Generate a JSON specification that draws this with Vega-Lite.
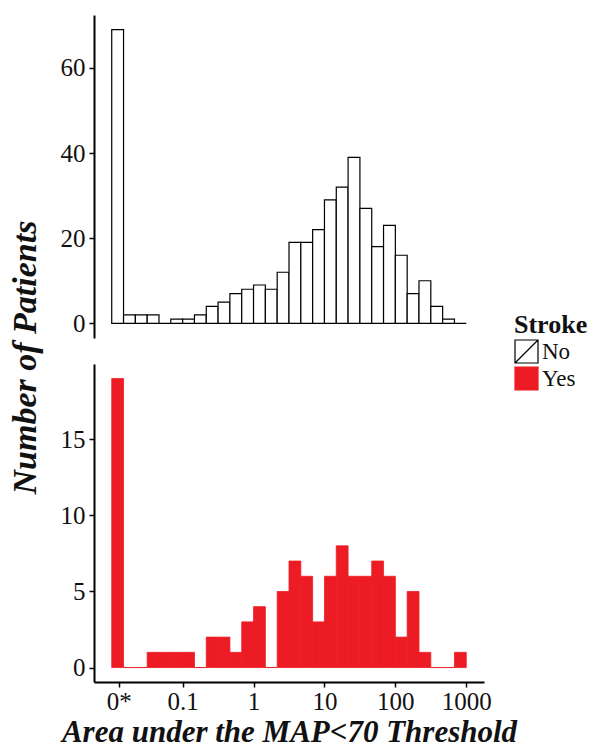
{
  "$schema": "https://vega.github.io/schema/vega-lite/v6.json",
  "background": "white",
  "padding": {"left": 8, "top": 15, "right": 0, "bottom": 0},
  "spacing": 26,
  "bounds": "flush",
  "config": {
    "view": {"stroke": null},
    "font": "Liberation Serif",
    "axis": {
      "grid": false,
      "domainColor": "black",
      "domainWidth": 2,
      "tickColor": "black",
      "tickWidth": 1.5,
      "tickSize": 5,
      "labelFont": "Liberation Serif",
      "labelFontSize": 25,
      "labelColor": "#111",
      "labelPadding": 4,
      "titleFont": "Liberation Serif",
      "titleFontSize": 31,
      "titleFontStyle": "italic",
      "titleFontWeight": "bold",
      "titleColor": "#111"
    },
    "legend": {
      "titleFont": "Liberation Serif",
      "labelFont": "Liberation Serif"
    }
  },
  "data": {"values": [
    {"Stroke": "No", "lo": -2, "hi": -1.8333, "count": 69},
    {"Stroke": "No", "lo": -1.8333, "hi": -1.6667, "count": 2},
    {"Stroke": "No", "lo": -1.6667, "hi": -1.5, "count": 2},
    {"Stroke": "No", "lo": -1.5, "hi": -1.3333, "count": 2},
    {"Stroke": "No", "lo": -1.3333, "hi": -1.1667, "count": 0},
    {"Stroke": "No", "lo": -1.1667, "hi": -1, "count": 1},
    {"Stroke": "No", "lo": -1, "hi": -0.8333, "count": 1},
    {"Stroke": "No", "lo": -0.8333, "hi": -0.6667, "count": 2},
    {"Stroke": "No", "lo": -0.6667, "hi": -0.5, "count": 4},
    {"Stroke": "No", "lo": -0.5, "hi": -0.3333, "count": 5},
    {"Stroke": "No", "lo": -0.3333, "hi": -0.1667, "count": 7},
    {"Stroke": "No", "lo": -0.1667, "hi": 0, "count": 8},
    {"Stroke": "No", "lo": 0, "hi": 0.1667, "count": 9},
    {"Stroke": "No", "lo": 0.1667, "hi": 0.3333, "count": 8},
    {"Stroke": "No", "lo": 0.3333, "hi": 0.5, "count": 12},
    {"Stroke": "No", "lo": 0.5, "hi": 0.6667, "count": 19},
    {"Stroke": "No", "lo": 0.6667, "hi": 0.8333, "count": 19},
    {"Stroke": "No", "lo": 0.8333, "hi": 1, "count": 22},
    {"Stroke": "No", "lo": 1, "hi": 1.1667, "count": 29},
    {"Stroke": "No", "lo": 1.1667, "hi": 1.3333, "count": 32},
    {"Stroke": "No", "lo": 1.3333, "hi": 1.5, "count": 39},
    {"Stroke": "No", "lo": 1.5, "hi": 1.6667, "count": 27},
    {"Stroke": "No", "lo": 1.6667, "hi": 1.8333, "count": 18},
    {"Stroke": "No", "lo": 1.8333, "hi": 2, "count": 23},
    {"Stroke": "No", "lo": 2, "hi": 2.1667, "count": 16},
    {"Stroke": "No", "lo": 2.1667, "hi": 2.3333, "count": 7},
    {"Stroke": "No", "lo": 2.3333, "hi": 2.5, "count": 10},
    {"Stroke": "No", "lo": 2.5, "hi": 2.6667, "count": 4},
    {"Stroke": "No", "lo": 2.6667, "hi": 2.8333, "count": 1},
    {"Stroke": "No", "lo": 2.8333, "hi": 3, "count": 0},
    {"Stroke": "Yes", "lo": -2, "hi": -1.8333, "count": 19},
    {"Stroke": "Yes", "lo": -1.8333, "hi": -1.6667, "count": 0},
    {"Stroke": "Yes", "lo": -1.6667, "hi": -1.5, "count": 0},
    {"Stroke": "Yes", "lo": -1.5, "hi": -1.3333, "count": 1},
    {"Stroke": "Yes", "lo": -1.3333, "hi": -1.1667, "count": 1},
    {"Stroke": "Yes", "lo": -1.1667, "hi": -1, "count": 1},
    {"Stroke": "Yes", "lo": -1, "hi": -0.8333, "count": 1},
    {"Stroke": "Yes", "lo": -0.8333, "hi": -0.6667, "count": 0},
    {"Stroke": "Yes", "lo": -0.6667, "hi": -0.5, "count": 2},
    {"Stroke": "Yes", "lo": -0.5, "hi": -0.3333, "count": 2},
    {"Stroke": "Yes", "lo": -0.3333, "hi": -0.1667, "count": 1},
    {"Stroke": "Yes", "lo": -0.1667, "hi": 0, "count": 3},
    {"Stroke": "Yes", "lo": 0, "hi": 0.1667, "count": 4},
    {"Stroke": "Yes", "lo": 0.1667, "hi": 0.3333, "count": 0},
    {"Stroke": "Yes", "lo": 0.3333, "hi": 0.5, "count": 5},
    {"Stroke": "Yes", "lo": 0.5, "hi": 0.6667, "count": 7},
    {"Stroke": "Yes", "lo": 0.6667, "hi": 0.8333, "count": 6},
    {"Stroke": "Yes", "lo": 0.8333, "hi": 1, "count": 3},
    {"Stroke": "Yes", "lo": 1, "hi": 1.1667, "count": 6},
    {"Stroke": "Yes", "lo": 1.1667, "hi": 1.3333, "count": 8},
    {"Stroke": "Yes", "lo": 1.3333, "hi": 1.5, "count": 6},
    {"Stroke": "Yes", "lo": 1.5, "hi": 1.6667, "count": 6},
    {"Stroke": "Yes", "lo": 1.6667, "hi": 1.8333, "count": 7},
    {"Stroke": "Yes", "lo": 1.8333, "hi": 2, "count": 6},
    {"Stroke": "Yes", "lo": 2, "hi": 2.1667, "count": 2},
    {"Stroke": "Yes", "lo": 2.1667, "hi": 2.3333, "count": 5},
    {"Stroke": "Yes", "lo": 2.3333, "hi": 2.5, "count": 1},
    {"Stroke": "Yes", "lo": 2.5, "hi": 2.6667, "count": 0},
    {"Stroke": "Yes", "lo": 2.6667, "hi": 2.8333, "count": 0},
    {"Stroke": "Yes", "lo": 2.8333, "hi": 3, "count": 1}
  ]},
  "vconcat": [
    {
      "width": 390,
      "height": 323,
      "transform": [{"filter": "datum.Stroke === 'No'"}],
      "mark": {"type": "bar", "strokeWidth": 1.2},
      "encoding": {
        "x": {"field": "lo", "type": "quantitative", "scale": {"domain": [-2.25, 3.25], "nice": false, "zero": false}, "axis": null},
        "x2": {"field": "hi"},
        "y": {"field": "count", "type": "quantitative", "scale": {"domain": [-3.45, 72.45], "nice": false, "zero": false},
              "axis": {"values": [0, 20, 40, 60], "title": "Number of Patients", "titleY": 342, "titlePadding": 18, "titleFontSize": 34}},
        "y2": {"datum": 0},
        "fill": {"field": "Stroke", "type": "nominal", "scale": {"domain": ["No", "Yes"], "range": ["white", "#ED1C24"]},
                 "legend": {"title": "Stroke", "orient": "none", "legendX": 420, "legendY": 297, "titleFontSize": 26, "titleFontWeight": "bold", "titleColor": "#111", "labelFontSize": 23, "labelColor": "#111", "symbolType": "M-1,-1H1V1H-1Z M-1,1L1,-1", "symbolSize": 529, "symbolStrokeWidth": 1.2, "rowPadding": -4, "labelOffset": 3, "titlePadding": 1}},
        "stroke": {"field": "Stroke", "type": "nominal", "scale": {"domain": ["No", "Yes"], "range": ["black", "#ED1C24"]},
                   "legend": {"title": "Stroke", "orient": "none", "legendX": 420, "legendY": 297, "titleFontSize": 26, "titleFontWeight": "bold", "titleColor": "#111", "labelFontSize": 23, "labelColor": "#111", "symbolType": "M-1,-1H1V1H-1Z M-1,1L1,-1", "symbolSize": 529, "symbolStrokeWidth": 1.2, "rowPadding": -4, "labelOffset": 3, "titlePadding": 1}}
      }
    },
    {
      "width": 390,
      "height": 318,
      "transform": [{"filter": "datum.Stroke === 'Yes'"}],
      "mark": {"type": "bar", "strokeWidth": 0.8},
      "encoding": {
        "x": {"field": "lo", "type": "quantitative", "scale": {"domain": [-2.25, 3.25], "nice": false, "zero": false},
              "axis": {"values": [-1.9, -1, 0, 1, 2, 3], "labelExpr": "datum.value < -1.5 ? '0*' : datum.value < -0.5 ? '0.1' : datum.value < 0.5 ? '1' : datum.value < 1.5 ? '10' : datum.value < 2.5 ? '100' : '1000'", "title": "Area under the MAP<70 Threshold", "titlePadding": 3, "labelPadding": 2, "labelFlush": false}},
        "x2": {"field": "hi"},
        "y": {"field": "count", "type": "quantitative", "scale": {"domain": [-0.95, 19.95], "nice": false, "zero": false},
              "axis": {"values": [0, 5, 10, 15], "title": null}},
        "y2": {"datum": 0},
        "fill": {"field": "Stroke", "type": "nominal", "scale": {"domain": ["No", "Yes"], "range": ["white", "#ED1C24"]}},
        "stroke": {"field": "Stroke", "type": "nominal", "scale": {"domain": ["No", "Yes"], "range": ["black", "#ED1C24"]}}
      }
    }
  ]
}
